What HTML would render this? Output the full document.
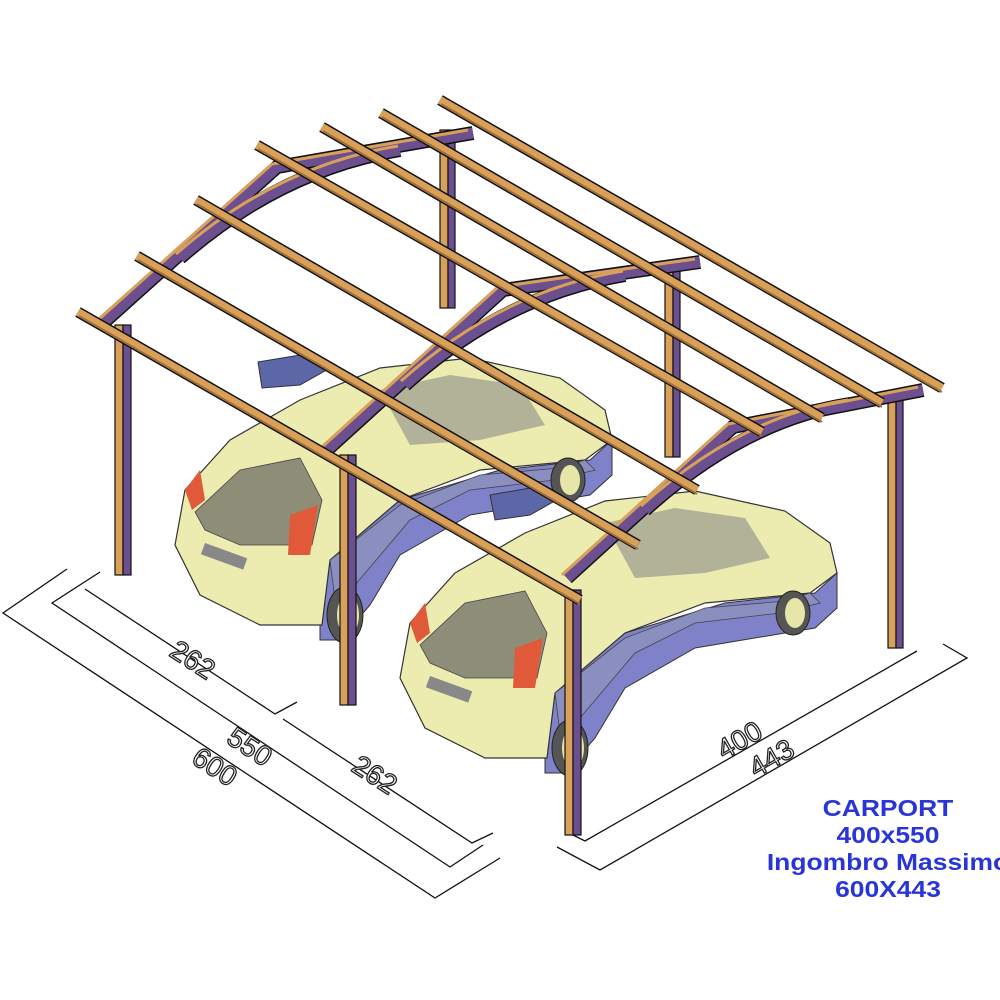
<!DOCTYPE html>
<html><head><meta charset="utf-8"><style>
html,body{margin:0;padding:0;background:#fff}
svg{display:block}
</style></head><body>
<svg width="1000" height="1000" viewBox="0 0 1000 1000" xmlns="http://www.w3.org/2000/svg">
<g fill="none" stroke="#111" stroke-width="1.3">
<polyline points="67,569 3,613 435,898 500,858"/>
<polyline points="100,572 52,603 450,867 483,845"/>
<polyline points="85,589 275,714 297,702"/>
<polyline points="283,719 472,843 493,833"/>
<polyline points="573,835 585,841 917,651"/>
<polyline points="557,847 600,870 967,658 943,644"/>
</g>
<g font-family="Liberation Sans, sans-serif" font-size="28" fill="#fff" stroke="#222" stroke-width="1.3">
<text transform="translate(168,655) rotate(33)">262</text>
<text transform="translate(225,742) rotate(33)">550</text>
<text transform="translate(190,762) rotate(33)">600</text>
<text transform="translate(350,770) rotate(33)">262</text>
<text transform="translate(724,760) rotate(-30)">400</text>
<text transform="translate(756,778) rotate(-30)">443</text>
</g>
<!-- back posts -->
<g stroke="#111" stroke-width="1.2">
<rect x="440" y="130" width="8" height="178" fill="#d9a05a"/><rect x="448" y="130" width="7" height="178" fill="#6b4f8f"/>
<rect x="665" y="265" width="8" height="192" fill="#d9a05a"/><rect x="673" y="265" width="7" height="192" fill="#6b4f8f"/>
<rect x="888" y="395" width="8" height="253" fill="#d9a05a"/><rect x="896" y="395" width="7" height="253" fill="#6b4f8f"/>
</g>
<!-- cars -->
<defs>
<g id="car">
<path d="M320,560 L400,500 L500,470 L590,460 L612,440 L612,475 L590,495 L470,515 L400,555 L370,605 L340,640 L320,640 Z" fill="#7f82c8" stroke="#333" stroke-width="1"/>
<path d="M185,490 L230,440 L300,400 L380,368 L470,358 L560,378 L605,410 L612,440 L585,460 L480,470 L400,500 L330,560 L322,625 L260,625 L200,595 L175,545 Z" fill="#ecebb0" stroke="#333" stroke-width="1.2"/>
<path d="M330,560 L400,505 L480,475 L560,468 L585,460 L595,470 L555,480 L470,490 L410,520 L355,585 L335,600 Z" fill="#8a8fbf" stroke="#444" stroke-width="0.8"/>
<path d="M195,512 L240,470 L300,458 L322,500 L312,545 L240,545 L205,530 Z" fill="#8e8d78" stroke="#444" stroke-width="0.8"/>
<path d="M380,390 L450,375 L520,385 L545,425 L480,440 L410,445 Z" fill="#9a9a8e" opacity="0.7"/>
<path d="M290,515 L318,505 L310,555 L288,555 Z" fill="#e05a3a"/>
<path d="M185,490 L200,470 L205,500 L192,510 Z" fill="#e05a3a"/>
<rect x="205" y="543" width="45" height="12" fill="#888" transform="rotate(20 205 543)"/>
<ellipse cx="345" cy="615" rx="18" ry="28" fill="#555" stroke="#222"/><ellipse cx="348" cy="615" rx="11" ry="20" fill="#e6e6a8"/>
<ellipse cx="568" cy="480" rx="17" ry="22" fill="#555" stroke="#222"/><ellipse cx="570" cy="480" rx="10" ry="15" fill="#e6e6a8"/>
</g>
</defs>
<path d="M258,362 L300,355 L330,368 L300,385 L262,388 Z" fill="#5c67a8" stroke="#333"/>
<use href="#car"/>
<path d="M490,495 L530,488 L560,498 L530,515 L495,520 Z" fill="#5c67a8" stroke="#333"/>
<use href="#car" transform="translate(225,133)"/>
<!-- front posts -->
<g stroke="#111" stroke-width="1.2">
<rect x="115" y="325" width="8" height="250" fill="#d9a05a"/><rect x="123" y="325" width="8" height="250" fill="#6b4f8f"/>
<rect x="340" y="455" width="8" height="250" fill="#d9a05a"/><rect x="348" y="455" width="8" height="250" fill="#6b4f8f"/>
<rect x="565" y="590" width="8" height="245" fill="#d9a05a"/><rect x="573" y="590" width="8" height="245" fill="#6b4f8f"/>
</g>
<!-- frames -->
<g fill="none" stroke-linecap="butt">
<g stroke="#111" stroke-width="14">
<polyline points="103,323 277,167 473,133"/><path d="M180,258 Q280,170 400,150"/>
<polyline points="327,450 503,290 700,262"/><path d="M405,385 Q505,295 625,275"/>
<polyline points="567,578 733,427 923,390"/><path d="M645,510 Q745,420 850,404"/>
</g>
<g stroke="#6b4f8f" stroke-width="11">
<polyline points="103,323 277,167 473,133"/><path d="M180,258 Q280,170 400,150"/>
<polyline points="327,450 503,290 700,262"/><path d="M405,385 Q505,295 625,275"/>
<polyline points="567,578 733,427 923,390"/><path d="M645,510 Q745,420 850,404"/>
</g>
<g stroke="#d9a05a" stroke-width="3">
<polyline points="98,320 272,164 468,130"/><polyline points="322,447 498,287 695,259"/><polyline points="562,575 728,424 918,387"/>
<path d="M176,254 Q276,166 398,146"/><path d="M401,381 Q501,291 623,271"/><path d="M641,506 Q741,416 848,400"/>
</g>
</g>
<!-- rafters -->
<g stroke-linecap="butt">
<g stroke="#111" stroke-width="11">
<line x1="78" y1="312" x2="580" y2="600"/>
<line x1="137" y1="256" x2="638" y2="545"/>
<line x1="196" y1="200" x2="697" y2="490"/>
<line x1="257" y1="145" x2="762" y2="432"/>
<line x1="322" y1="127" x2="822" y2="418"/>
<line x1="381" y1="113" x2="882" y2="403"/>
<line x1="440" y1="100" x2="942" y2="388"/>
</g>
<g stroke="#d9a05a" stroke-width="8">
<line x1="78" y1="312" x2="580" y2="600"/>
<line x1="137" y1="256" x2="638" y2="545"/>
<line x1="196" y1="200" x2="697" y2="490"/>
<line x1="257" y1="145" x2="762" y2="432"/>
<line x1="322" y1="127" x2="822" y2="418"/>
<line x1="381" y1="113" x2="882" y2="403"/>
<line x1="440" y1="100" x2="942" y2="388"/>
</g>
<g stroke="#a0703a" stroke-width="2">
<line x1="79" y1="316" x2="580" y2="604"/>
<line x1="138" y1="260" x2="638" y2="549"/>
<line x1="197" y1="204" x2="697" y2="494"/>
<line x1="258" y1="149" x2="762" y2="436"/>
<line x1="323" y1="131" x2="822" y2="422"/>
<line x1="382" y1="117" x2="882" y2="407"/>
<line x1="441" y1="104" x2="942" y2="392"/>
</g>
</g>
<g font-family="Liberation Sans, sans-serif" font-size="23" font-weight="bold" fill="#2a35d8" text-anchor="middle" transform="translate(888,0) scale(1.15,1) translate(-888,0)">
<text x="888" y="816">CARPORT</text>
<text x="888" y="843">400x550</text>
<text x="888" y="870">Ingombro Massimo</text>
<text x="888" y="897">600X443</text>
</g>
</svg>
</body></html>
